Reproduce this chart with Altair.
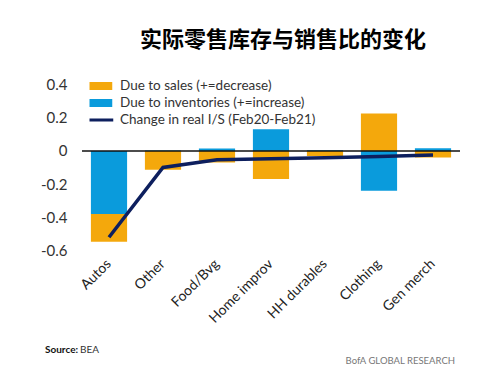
import altair as alt
import pandas as pd

categories = ["Autos", "Other", "Food/Bvg", "Home improv", "HH durables", "Clothing", "Gen merch"]
due_to_sales = [-0.167, -0.114, -0.07, -0.17, -0.03, 0.225, -0.04]
due_to_inventories = [-0.38, 0.003, 0.014, 0.13, 0.004, -0.24, 0.016]
change_real_is = [-0.52, -0.10, -0.053, -0.047, -0.041, -0.033, -0.025]
series_names = ["Due to sales (+=decrease)", "Due to inventories (+=increase)"]
line_name = "Change in real I/S (Feb20-Feb21)"
y_ticks = [0.4, 0.2, 0, -0.2, -0.4, -0.6]
title_text = "实际零售库存与销售比的变化"

ORANGE = "#F4A80C"
BLUE = "#0A9BDC"
NAVY = "#0D1F5E"
FONT = "Lato"

rows = []
for i, c in enumerate(categories):
    rows.append({"cat": c, "series": series_names[1], "value": due_to_inventories[i], "ord": 0})
    rows.append({"cat": c, "series": series_names[0], "value": due_to_sales[i], "ord": 1})
bars_df = pd.DataFrame(rows)
line_df = pd.DataFrame({"cat": categories, "value": change_real_is, "series": [line_name] * len(categories)})

x_scale = alt.Scale(paddingInner=0.33, paddingOuter=0.165)
x_axis = alt.Axis(labelAngle=-45, labelAlign="right", labelBaseline="middle",
                  labelPadding=11, domain=False, ticks=False, grid=False,
                  labelFont=FONT, labelFontSize=14, labelColor="#222")
y_scale = alt.Scale(domain=[-0.6, 0.4], nice=False)
y_axis = alt.Axis(values=y_ticks, domain=False, ticks=False, grid=False,
                  labelOverlap=False, labelBound=False, labelFlush=False,
                  labelPadding=15, labelFont=FONT, labelFontSize=15, labelColor="#333",
                  labelExpr="datum.value == 0 ? '0' : replace(format(datum.value, '.1f'), '\u2212', '-')")

bars = alt.Chart(bars_df).mark_bar().encode(
    x=alt.X("cat:N", sort=categories, title=None, scale=x_scale, axis=x_axis),
    y=alt.Y("value:Q", stack="zero", scale=y_scale, title=None, axis=y_axis),
    color=alt.Color("series:N", scale=alt.Scale(domain=series_names, range=[ORANGE, BLUE]),
                    legend=alt.Legend(orient="none", legendX=7.5, legendY=-7, title=None,
                                      symbolType="M-4,-1H4V1H-4Z", symbolSize=64, symbolStrokeWidth=0,
                                      labelOffset=17, labelFont=FONT, labelFontSize=13.5, labelColor="#333",
                                      labelLimit=400, padding=0, rowPadding=0, clipHeight=17)),
    order=alt.Order("ord:Q"),
)

zero = alt.Chart(pd.DataFrame({"z": [0]})).mark_rule(color="#111", strokeWidth=1.5).encode(
    y=alt.Y("z:Q", scale=y_scale, title=None, axis=y_axis)
)

line = alt.Chart(line_df).mark_line(strokeWidth=3.5).encode(
    x=alt.X("cat:N", sort=categories, title=None, scale=x_scale, axis=x_axis),
    y=alt.Y("value:Q", scale=y_scale, title=None, axis=y_axis),
    stroke=alt.Stroke("series:N", scale=alt.Scale(domain=[line_name], range=[NAVY]),
                      legend=alt.Legend(orient="none", legendX=7.5, legendY=27, title=None,
                                        symbolType="M-4.25,0H4.25", symbolSize=64, symbolStrokeWidth=3,
                                        labelOffset=17, labelFont=FONT, labelFontSize=13.5, labelColor="#333",
                                        labelLimit=400, padding=0, rowPadding=0, clipHeight=17)),
)

src_bold = alt.Chart(pd.DataFrame({"t": ["Source:"]})).mark_text(
    align="left", baseline="middle", font=FONT, fontSize=10, fontWeight="bold", color="#111"
).encode(x=alt.value(-37), y=alt.value(265.5), text="t:N")
src = alt.Chart(pd.DataFrame({"t": ["BEA"]})).mark_text(
    align="left", baseline="middle", font=FONT, fontSize=10, color="#333"
).encode(x=alt.value(-2), y=alt.value(265.5), text="t:N")
brand = alt.Chart(pd.DataFrame({"t": ["BofA GLOBAL RESEARCH"]})).mark_text(
    align="right", baseline="alphabetic", font=FONT, fontSize=9.5, color="#777"
).encode(x=alt.value(373), y=alt.value(279.5), text="t:N")

chart = alt.layer(bars, zero, line, src_bold, src, brand).resolve_scale(color="independent").properties(
    width=378, height=166,
    autosize=alt.AutoSizeParams(type="none"),
    padding={"left": 74, "top": 76.5, "right": 32, "bottom": 114.5},
    title=alt.TitleParams(title_text, font="Noto Sans CJK SC", fontSize=22, fontWeight="bold",
                          color="#000", anchor="middle", dx=12, offset=26),
).configure_view(stroke=None).configure_axis(labelOverlap=False)

chart.save("out.html", embed_options={"renderer": "svg", "actions": False})
